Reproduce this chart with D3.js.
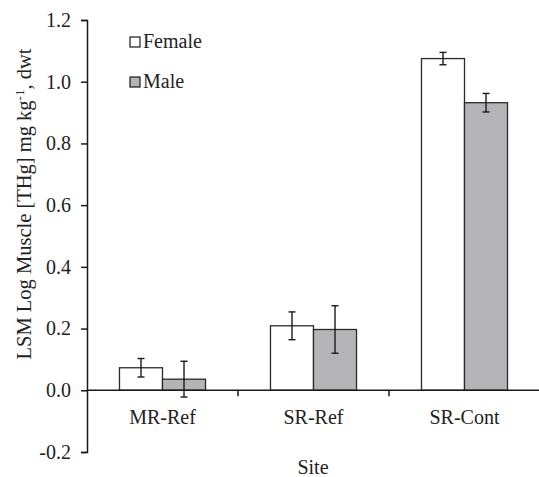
<!DOCTYPE html>
<html>
<head>
<meta charset="utf-8">
<script src="https://cdn.jsdelivr.net/npm/d3@7"></script>
<style>
  body { margin: 0; background: #fff; }
  svg { display: block; font-family: "Liberation Serif", "Times New Roman", serif; }
</style>
</head>
<body>
<svg id="chart" width="539" height="477"></svg>
<script>
const sites = ["MR-Ref", "SR-Ref", "SR-Cont"];
const sexes = ["Female", "Male"];
const femaleVals = [0.073, 0.209, 1.075];
const femaleErr = [0.030, 0.045, 0.020];
const maleVals = [0.036, 0.197, 0.932];
const maleErr = [0.058, 0.077, 0.030];
const yTicks = [-0.2, 0, 0.2, 0.4, 0.6, 0.8, 1.0, 1.2];

const fills = { Female: "#ffffff", Male: "#b4b4b7" };
const serif = "Liberation Serif, Times New Roman, serif";

const svg = d3.select("#chart");

const y = d3.scaleLinear().domain([-0.2, 1.2]).range([452, 20]);
const x = d3.scaleBand().domain(sites).range([87, 540]).paddingInner(0).paddingOuter(0);
const xSub = d3.scaleBand().domain(sexes).range([0, x.bandwidth()]).paddingInner(0).paddingOuter(0.755);

const rows = [];
sites.forEach((s, i) => {
  rows.push({ site: s, sex: "Female", v: femaleVals[i], e: femaleErr[i] });
  rows.push({ site: s, sex: "Male", v: maleVals[i], e: maleErr[i] });
});

// bars
const bars = svg.append("g").selectAll("g")
  .data(rows)
  .enter()
  .append("g")
  .attr("transform", d => `translate(${x(d.site) + xSub(d.sex)},0)`);

bars.append("rect")
  .attr("x", 0)
  .attr("width", xSub.bandwidth())
  .attr("y", d => y(d.v))
  .attr("height", d => y(0) - y(d.v))
  .attr("fill", d => fills[d.sex])
  .attr("stroke", "#2a2a2a")
  .attr("stroke-width", 1.3);

// y axis
const yAxis = svg.append("g")
  .attr("transform", `translate(87,0)`)
  .call(d3.axisLeft(y).tickValues(yTicks).tickSize(6).tickPadding(10)
    .tickFormat(d => d3.format(".1f")(d).replace("\u2212", "-")));
yAxis.attr("font-family", serif).attr("font-size", 20);
yAxis.select(".domain").attr("stroke", "#1a1a1a").attr("stroke-width", 1.5);
yAxis.selectAll(".tick line").attr("stroke", "#1a1a1a").attr("stroke-width", 1.5);
yAxis.selectAll("text").attr("fill", "#222");

// x axis line at zero
svg.append("line")
  .attr("x1", 87).attr("x2", 539)
  .attr("y1", y(0)).attr("y2", y(0))
  .attr("stroke", "#1a1a1a").attr("stroke-width", 1.5);

// separator ticks between categories
svg.append("g").selectAll("line")
  .data(sites.slice(1))
  .enter()
  .append("line")
  .attr("x1", d => x(d)).attr("x2", d => x(d))
  .attr("y1", y(0)).attr("y2", y(0) + 6)
  .attr("stroke", "#1a1a1a").attr("stroke-width", 1.5);

// error bars
const cap = 3.5;
const cx = d => x(d.site) + xSub(d.sex) + xSub.bandwidth() / 2;
const eb = svg.append("g").selectAll("g")
  .data(rows)
  .enter()
  .append("g")
  .attr("stroke", "#1a1a1a")
  .attr("stroke-width", 1.4);
eb.append("line")
  .attr("x1", cx).attr("x2", cx)
  .attr("y1", d => y(d.v + d.e))
  .attr("y2", d => y(d.v - d.e));
eb.append("line")
  .attr("x1", d => cx(d) - cap).attr("x2", d => cx(d) + cap)
  .attr("y1", d => y(d.v + d.e))
  .attr("y2", d => y(d.v + d.e));
eb.append("line")
  .attr("x1", d => cx(d) - cap).attr("x2", d => cx(d) + cap)
  .attr("y1", d => y(d.v - d.e))
  .attr("y2", d => y(d.v - d.e));

// category labels
svg.append("g").selectAll("text")
  .data(sites)
  .enter()
  .append("text")
  .attr("x", d => x(d) + x.bandwidth() / 2)
  .attr("y", 424)
  .attr("text-anchor", "middle")
  .attr("font-size", 20)
  .attr("fill", "#222")
  .text(d => d);

// axis titles
svg.append("text")
  .attr("x", 313)
  .attr("y", 474)
  .attr("text-anchor", "middle")
  .attr("font-size", 20)
  .attr("fill", "#222")
  .text("Site");

const yt = svg.append("text")
  .attr("transform", "translate(31,204) rotate(-90)")
  .attr("text-anchor", "middle")
  .attr("font-size", 20.5)
  .attr("fill", "#222");
yt.append("tspan").text("LSM Log Muscle [THg] mg kg");
yt.append("tspan").attr("dy", -7).attr("font-size", 13).text("-1");
yt.append("tspan").attr("dy", 7).text(", dwt");

// legend
const legend = svg.append("g").selectAll("g")
  .data(sexes)
  .enter()
  .append("g")
  .attr("transform", (d, i) => `translate(130,${37 + i * 40})`);
legend.append("rect")
  .attr("width", 10).attr("height", 10)
  .attr("fill", d => fills[d])
  .attr("stroke", "#1a1a1a").attr("stroke-width", 1.2);
legend.append("text")
  .attr("x", 13).attr("y", 11)
  .attr("font-size", 20)
  .attr("fill", "#222")
  .text(d => d);
</script>
</body>
</html>
